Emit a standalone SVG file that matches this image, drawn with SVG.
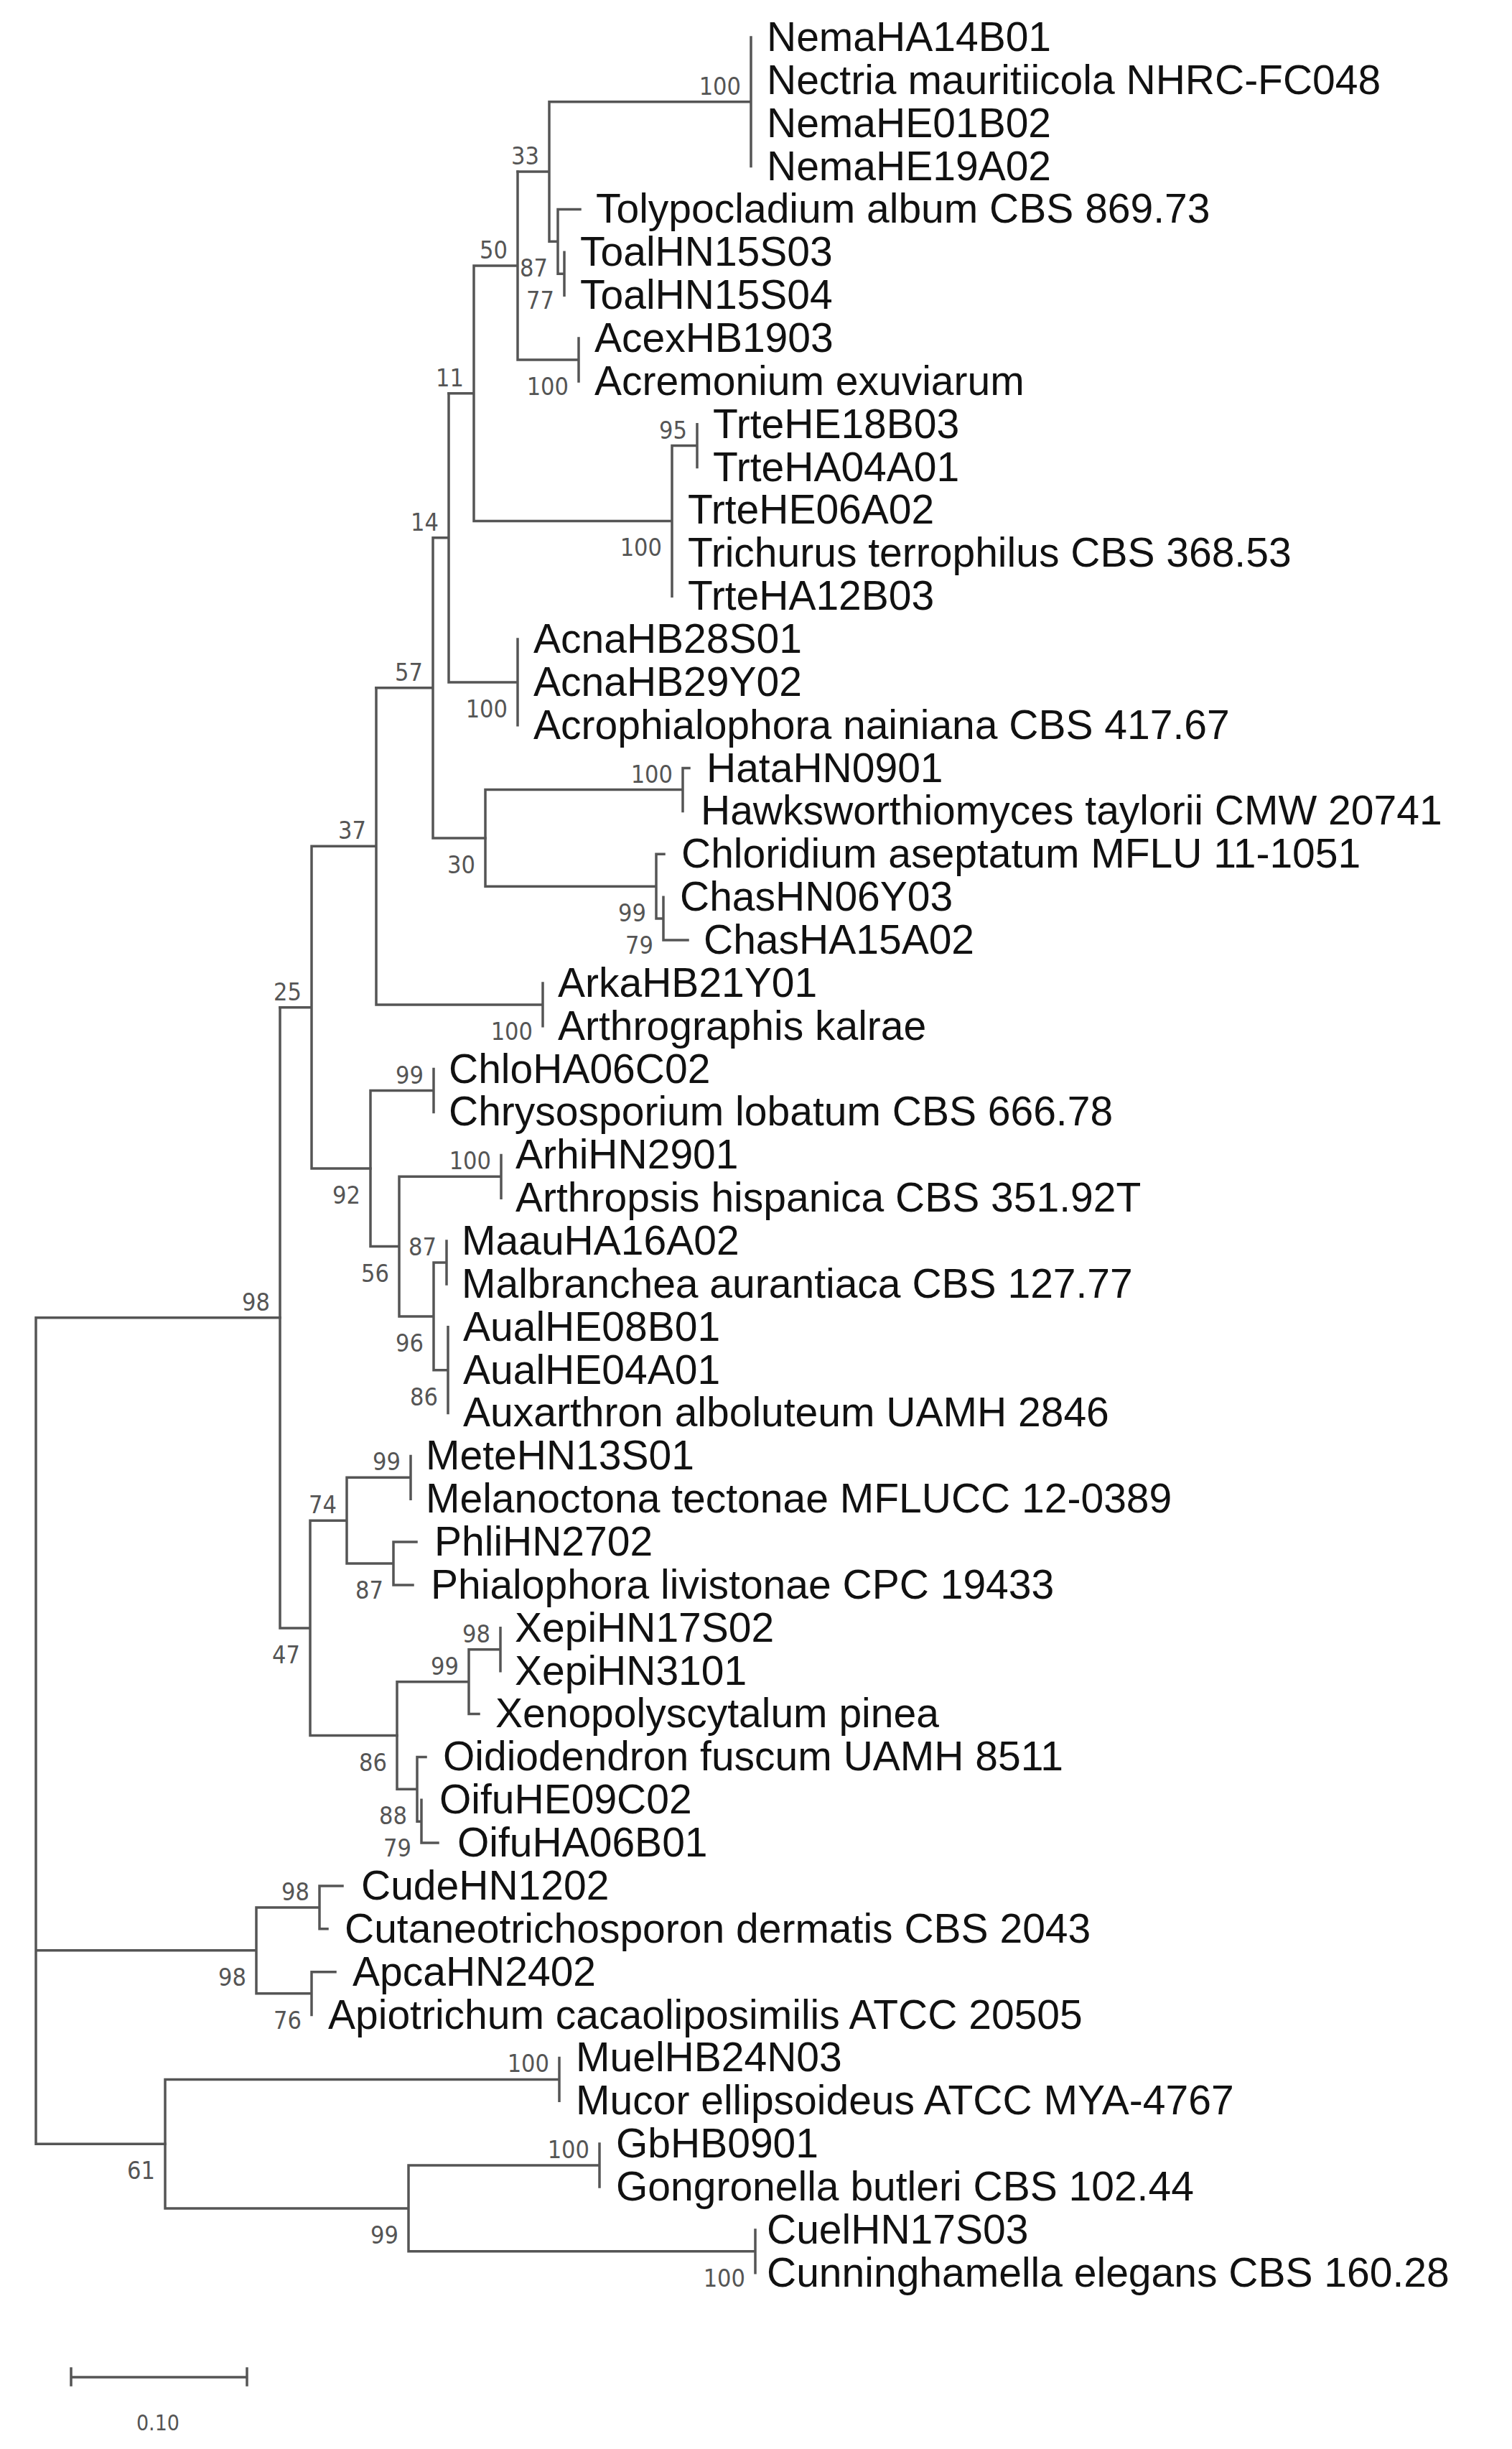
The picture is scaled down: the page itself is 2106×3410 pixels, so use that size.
<svg xmlns="http://www.w3.org/2000/svg" width="2106" height="3410" viewBox="0 0 2106 3410">
<style>
.e{fill:none;stroke:#555;stroke-width:3.5;stroke-linecap:square}
.t{font-family:"Liberation Sans",Arial,sans-serif;font-size:57px;fill:#111}
.b{font-family:"Liberation Sans Narrow","DejaVu Sans Condensed","Liberation Sans",sans-serif;font-size:34px;fill:#555;text-anchor:end}
</style>
<rect width="2106" height="3410" fill="#fff"/>
<g id="edges" class="e">
<path d="M1046 52V231.6M765 141.8H1046M765 141.8V336.3M765 336.3H777M721 239H765M777 291.4V381.2M777 291.4H808M777 381.2H786M786 351.3V411.2"/>
<path d="M721 239V501M721 501H806M660 370H721M806 471V530.9M660 370V725.4M660 725.4H936M625 547.7H660M936 620.6V830.2M936 620.6H971M971 590.7V650.6"/>
<path d="M625 547.7V949.9M625 949.9H721M603 748.8H625M721 890V1009.8M603 748.8V1166.9M603 1166.9H676M524 957.8H603"/>
<path d="M676 1099.5V1234.2M676 1099.5H951M676 1234.2H914M951 1069.6V1129.5M951 1069.6H960M914 1189.3V1279.1M914 1189.3H925M914 1279.1H924M924 1249.2V1309.1M924 1309.1H958"/>
<path d="M524 957.8V1398.9M524 1398.9H756M434 1178.3H524M756 1368.9V1428.8M434 1178.3V1627.1M434 1627.1H516M390 1402.7H434"/>
<path d="M516 1518.6V1735.6M516 1518.6H604M516 1735.6H556M604 1488.6V1548.5M556 1638.3V1832.9M556 1638.3H698M556 1832.9H604M698 1608.4V1668.2M604 1758V1907.7M604 1758H622M604 1907.7H624M622 1728.1V1787.9M624 1847.8V1967.5"/>
<path d="M390 1402.7V2266.9M390 2266.9H432M432 2117.2V2416.5M432 2117.2H483M432 2416.5H553M483 2057.3V2177M483 2057.3H572M483 2177H548M572 2027.4V2087.2M548 2147.1V2207M548 2147.1H580M548 2207H575"/>
<path d="M553 2341.7V2491.3M553 2341.7H653M553 2491.3H581M653 2296.8V2386.5M653 2296.8H697M653 2386.5H667M697 2266.8V2326.7M581 2446.4V2536.2M581 2446.4H593M581 2536.2H587M587 2506.3V2566.1M587 2566.1H610"/>
<path d="M50 1834.8V2985.2M50 1834.8H390M50 2715.8H357M50 2985.2H230M357 2655.9V2775.7M357 2655.9H445M357 2775.7H434M445 2626V2685.8M445 2626H477M445 2685.8H456M434 2745.7V2805.6M434 2745.7H467"/>
<path d="M230 2895.4V3074.9M230 2895.4H779M230 3074.9H569M779 2865.4V2925.3M569 3015V3134.8M569 3015H835M569 3134.8H1052M835 2985.1V3045M1052 3104.9V3164.7"/>
</g>
<g id="leaves" class="t">
<text x="1068" y="71">NemaHA14B01</text>
<text x="1068" y="131">Nectria mauritiicola NHRC-FC048</text>
<text x="1068" y="191">NemaHE01B02</text>
<text x="1068" y="251">NemaHE19A02</text>
<text x="830" y="310">Tolypocladium album CBS 869.73</text>
<text x="808" y="370">ToalHN15S03</text>
<text x="808" y="430">ToalHN15S04</text>
<text x="828" y="490">AcexHB1903</text>
<text x="828" y="550">Acremonium exuviarum</text>
<text x="993" y="610">TrteHE18B03</text>
<text x="993" y="670">TrteHA04A01</text>
<text x="958" y="729">TrteHE06A02</text>
<text x="958" y="789">Trichurus terrophilus CBS 368.53</text>
<text x="958" y="849">TrteHA12B03</text>
<text x="743" y="909">AcnaHB28S01</text>
<text x="743" y="969">AcnaHB29Y02</text>
<text x="743" y="1029">Acrophialophora nainiana CBS 417.67</text>
<text x="984" y="1089">HataHN0901</text>
<text x="976" y="1148">Hawksworthiomyces taylorii CMW 20741</text>
<text x="949" y="1208">Chloridium aseptatum MFLU 11-1051</text>
<text x="947" y="1268">ChasHN06Y03</text>
<text x="980" y="1328">ChasHA15A02</text>
<text x="777" y="1388">ArkaHB21Y01</text>
<text x="777" y="1448">Arthrographis kalrae</text>
<text x="625" y="1508">ChloHA06C02</text>
<text x="625" y="1567">Chrysosporium lobatum CBS 666.78</text>
<text x="718" y="1627">ArhiHN2901</text>
<text x="718" y="1687">Arthropsis hispanica CBS 351.92T</text>
<text x="643" y="1747">MaauHA16A02</text>
<text x="643" y="1807">Malbranchea aurantiaca CBS 127.77</text>
<text x="645" y="1867">AualHE08B01</text>
<text x="645" y="1927">AualHE04A01</text>
<text x="645" y="1986">Auxarthron alboluteum UAMH 2846</text>
<text x="593" y="2046">MeteHN13S01</text>
<text x="593" y="2106">Melanoctona tectonae MFLUCC 12-0389</text>
<text x="605" y="2166">PhliHN2702</text>
<text x="600" y="2226">Phialophora livistonae CPC 19433</text>
<text x="717" y="2286">XepiHN17S02</text>
<text x="717" y="2346">XepiHN3101</text>
<text x="690" y="2405">Xenopolyscytalum pinea</text>
<text x="617" y="2465">Oidiodendron fuscum UAMH 8511</text>
<text x="612" y="2525">OifuHE09C02</text>
<text x="637" y="2585">OifuHA06B01</text>
<text x="503" y="2645">CudeHN1202</text>
<text x="480" y="2705">Cutaneotrichosporon dermatis CBS 2043</text>
<text x="491" y="2765">ApcaHN2402</text>
<text x="457" y="2825">Apiotrichum cacaoliposimilis ATCC 20505</text>
<text x="802" y="2884">MuelHB24N03</text>
<text x="802" y="2944">Mucor ellipsoideus ATCC MYA-4767</text>
<text x="858" y="3004">GbHB0901</text>
<text x="858" y="3064">Gongronella butleri CBS 102.44</text>
<text x="1068" y="3124">CuelHN17S03</text>
<text x="1068" y="3184">Cunninghamella elegans CBS 160.28</text>
</g>
<g id="bootstrap" class="b">
<text x="1032" y="132">100</text>
<text x="763" y="385">87</text>
<text x="772" y="430">77</text>
<text x="751" y="229">33</text>
<text x="792" y="550">100</text>
<text x="707" y="360">50</text>
<text x="957" y="611">95</text>
<text x="922" y="774">100</text>
<text x="646" y="538">11</text>
<text x="707" y="999">100</text>
<text x="611" y="739">14</text>
<text x="937" y="1090">100</text>
<text x="900" y="1283">99</text>
<text x="910" y="1328">79</text>
<text x="662" y="1216">30</text>
<text x="589" y="948">57</text>
<text x="742" y="1448">100</text>
<text x="510" y="1168">37</text>
<text x="590" y="1509">99</text>
<text x="684" y="1628">100</text>
<text x="608" y="1748">87</text>
<text x="610" y="1957">86</text>
<text x="590" y="1882">96</text>
<text x="542" y="1785">56</text>
<text x="502" y="1676">92</text>
<text x="420" y="1393">25</text>
<text x="558" y="2047">99</text>
<text x="534" y="2226">87</text>
<text x="469" y="2107">74</text>
<text x="683" y="2287">98</text>
<text x="639" y="2332">99</text>
<text x="567" y="2540">88</text>
<text x="573" y="2585">79</text>
<text x="539" y="2466">86</text>
<text x="418" y="2316">47</text>
<text x="376" y="1825">98</text>
<text x="431" y="2646">98</text>
<text x="420" y="2825">76</text>
<text x="343" y="2765">98</text>
<text x="765" y="2885">100</text>
<text x="821" y="3005">100</text>
<text x="1038" y="3184">100</text>
<text x="555" y="3124">99</text>
<text x="216" y="3034">61</text>
</g>
<g id="scalebar">
<path class="e" d="M99 3310H344M99 3298V3321M344 3298V3321"/>
<text x="220" y="3384" class="b" style="text-anchor:middle;font-size:30px">0.10</text>
</g>
</svg>
